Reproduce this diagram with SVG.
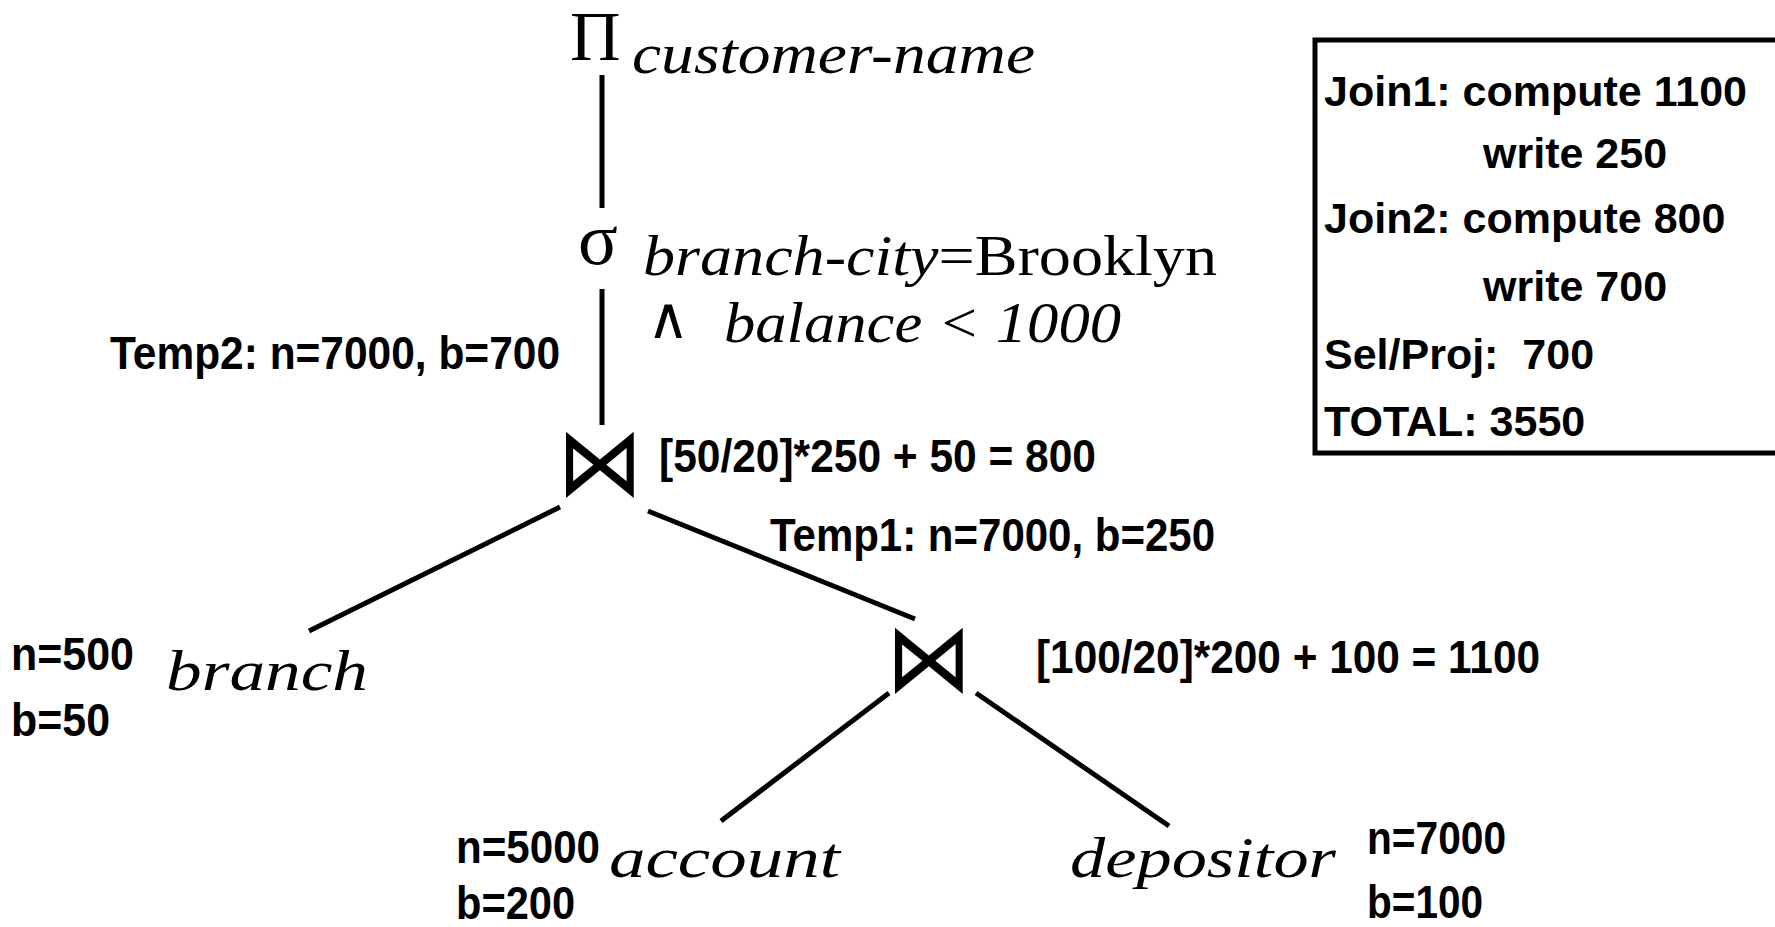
<svg xmlns="http://www.w3.org/2000/svg" width="1775" height="927" viewBox="0 0 1775 927">
<style>
.bold{font-family:"Liberation Sans",Arial,sans-serif;font-weight:bold;fill:#000}
.tb{font-size:46px}
.bx{font-size:43px}
.it{font-family:"Liberation Serif","Times New Roman",serif;font-style:italic;font-size:56px;fill:#000}
.rm{font-family:"Liberation Serif","Times New Roman",serif;font-style:normal}
.op{font-family:"DejaVu Sans",sans-serif;fill:#000}
.ln{stroke:#000;stroke-width:5;fill:none;stroke-linecap:butt}
</style>
<rect width="1775" height="927" fill="#fff"/>
<g id="connectors">
<line class="ln" x1="602" y1="75" x2="602" y2="208"/>
<line class="ln" x1="602" y1="289" x2="602" y2="425"/>
<line class="ln" x1="560" y1="507" x2="309" y2="631"/>
<line class="ln" x1="648" y1="511" x2="915" y2="619"/>
<line class="ln" x1="889" y1="693" x2="721" y2="821"/>
<line class="ln" x1="976" y1="693" x2="1169" y2="826"/>
</g>
<g id="project">
<text x="570" y="60" font-family="Liberation Serif,serif" font-size="70">Π</text>
<text class="it" x="632" y="73" textLength="403" lengthAdjust="spacingAndGlyphs">customer-name</text>
</g>
<g id="select">
<text x="578" y="264" font-family="Liberation Serif,serif" font-size="74">σ</text>
<text class="it" x="643" y="275" textLength="574" lengthAdjust="spacingAndGlyphs">branch-city<tspan class="rm">=Brooklyn</tspan></text>
<text class="op" x="647" y="338" font-size="58">∧</text>
<text class="it" x="724" y="342" textLength="397" lengthAdjust="spacingAndGlyphs">balance &lt; 1000</text>
</g>
<g id="temp2">
<text class="bold tb" x="110" y="369" textLength="450" lengthAdjust="spacingAndGlyphs">Temp2: n=7000, b=700</text>
</g>
<g id="join1">
<text class="op" transform="translate(600,464) scale(1,1.12)" x="0" y="28" font-size="86" text-anchor="middle">⋈</text>
<text class="bold tb" x="659" y="472" textLength="437" lengthAdjust="spacingAndGlyphs">[50/20]*250 + 50 = 800</text>
</g>
<g id="temp1">
<text class="bold tb" x="770" y="551" textLength="445" lengthAdjust="spacingAndGlyphs">Temp1: n=7000, b=250</text>
</g>
<g id="branch">
<text class="it" x="166" y="690" textLength="202" lengthAdjust="spacingAndGlyphs">branch</text>
<text class="bold tb" x="11" y="670" textLength="123" lengthAdjust="spacingAndGlyphs">n=500</text>
<text class="bold tb" x="11" y="736" textLength="99" lengthAdjust="spacingAndGlyphs">b=50</text>
</g>
<g id="join2">
<text class="op" transform="translate(929,660) scale(1,1.12)" x="0" y="28" font-size="86" text-anchor="middle">⋈</text>
<text class="bold tb" x="1036" y="673" textLength="504" lengthAdjust="spacingAndGlyphs">[100/20]*200 + 100 = 1100</text>
</g>
<g id="account">
<text class="it" x="609" y="877" textLength="231" lengthAdjust="spacingAndGlyphs">account</text>
<text class="bold tb" x="456" y="863" textLength="144" lengthAdjust="spacingAndGlyphs">n=5000</text>
<text class="bold tb" x="456" y="919" textLength="119" lengthAdjust="spacingAndGlyphs">b=200</text>
</g>
<g id="depositor">
<text class="it" x="1070" y="877" textLength="266" lengthAdjust="spacingAndGlyphs">depositor</text>
<text class="bold tb" x="1367" y="854" textLength="139" lengthAdjust="spacingAndGlyphs">n=7000</text>
<text class="bold tb" x="1367" y="918" textLength="116" lengthAdjust="spacingAndGlyphs">b=100</text>
</g>
<g id="cost-box">
<rect x="1315" y="40" width="500" height="413" fill="none" stroke="#000" stroke-width="5"/>
<text class="bold bx" x="1324" y="106">Join1: compute 1100</text>
<text class="bold bx" x="1483" y="168">write 250</text>
<text class="bold bx" x="1324" y="233">Join2: compute 800</text>
<text class="bold bx" x="1483" y="301">write 700</text>
<text class="bold bx" x="1324" y="369">Sel/Proj:&#160; 700</text>
<text class="bold bx" x="1324" y="436">TOTAL: 3550</text>
</g>
</svg>
